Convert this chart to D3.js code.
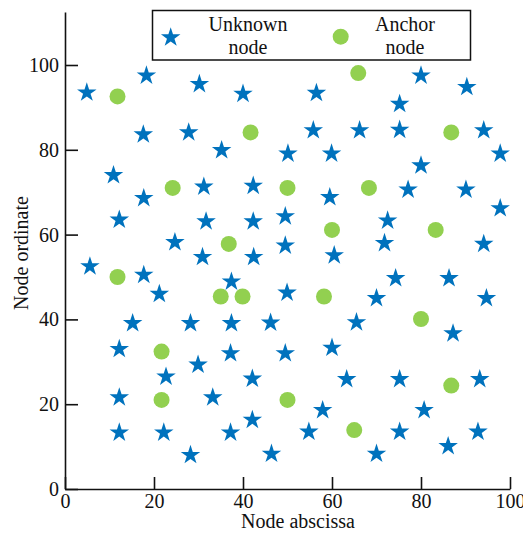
<!DOCTYPE html>
<html>
<head>
<meta charset="utf-8">
<script src="https://cdn.jsdelivr.net/npm/d3@7"></script>
<style>
body { margin: 0; background: #fff; }
svg text { font-family: "Liberation Serif", "Times New Roman", Times, "DejaVu Serif", serif !important; fill: #111; }
</style>
</head>
<body>
<script>
// unknown nodes (stars)
var unknownX = [4.9, 18.3, 30.2, 40.0, 17.6, 27.8, 35.2, 10.9,
  56.5, 80.0, 90.3, 75.2, 55.8, 66.2, 75.2, 94.1, 50.1, 59.9, 97.8, 80.0,
  31.2, 42.3, 17.7, 12.2, 31.7, 42.3, 24.7, 30.9, 42.4, 5.6, 17.7, 37.4, 21.2, 15.2, 28.2, 37.4,
  59.5, 77.1, 90.1, 97.8, 49.5, 72.5, 49.5, 71.8, 94.1, 60.5, 74.3, 86.3, 49.9, 70.0, 94.7, 46.2, 65.5, 87.2, 60.0, 49.5,
  12.2, 29.9, 37.2, 22.7, 42.1, 12.2, 33.2, 12.2, 22.2, 37.2, 42.1, 28.2,
  63.3, 75.2, 93.2, 57.9, 80.7, 54.8, 75.2, 92.8, 86.1, 46.4, 70.0];
var unknownY = [93.5, 97.5, 95.5, 93.2, 83.6, 84.1, 79.9, 74.0,
  93.4, 97.5, 94.8, 90.8, 84.6, 84.6, 84.7, 84.6, 79.1, 79.1, 79.1, 76.3,
  71.3, 71.5, 68.6, 63.5, 63.1, 63.1, 58.2, 54.7, 54.7, 52.5, 50.5, 48.9, 46.0, 39.1, 39.1, 39.1,
  68.8, 70.6, 70.6, 66.2, 64.3, 63.3, 57.4, 58.0, 57.8, 55.1, 49.7, 49.7, 46.3, 45.0, 45.0, 39.2, 39.3, 36.7, 33.3, 32.0,
  33.0, 29.3, 32.0, 26.5, 26.0, 21.6, 21.6, 13.3, 13.3, 13.3, 16.3, 8.0,
  25.9, 25.9, 25.9, 18.6, 18.6, 13.5, 13.5, 13.5, 10.1, 8.3, 8.3];

// anchor nodes (green dots)
var anchorX = [11.8, 65.9, 86.8, 41.7, 24.2, 50.0, 68.3, 60.0, 83.3, 36.8,
  11.8, 35.0, 39.9, 58.2, 80.0, 21.7, 21.7, 50.0, 86.8, 65.0];
var anchorY = [92.6, 98.1, 84.1, 84.1, 71.0, 71.0, 71.0, 61.1, 61.1, 57.8,
  50.0, 45.4, 45.4, 45.4, 40.1, 32.4, 21.0, 21.0, 24.4, 13.9];

var xTicks = [0, 20, 40, 60, 80, 100];
var yTicks = [0, 20, 40, 60, 80, 100];
var legendNames = [["Unknown", "node"], ["Anchor", "node"]];

var width = 523;
var height = 535;
var blue = "#0072BD";
var green = "#92D050";
var serif = "'Liberation Serif', 'Times New Roman', Times, 'DejaVu Serif', serif";

var svg = d3.select("body").append("svg")
  .attr("width", width)
  .attr("height", height)
  .attr("font-family", serif);

var x = d3.scaleLinear().domain([0, 100]).range([65, 510]);
var y = d3.scaleLinear().domain([0, 112.5]).range([489, 12]);

// axes, ticks point inwards
var xAxis = svg.append("g")
  .attr("transform", "translate(0,489)")
  .call(d3.axisBottom(x).tickValues(xTicks).tickSize(-12).tickSizeOuter(0).tickPadding(5));
var yAxis = svg.append("g")
  .attr("transform", "translate(65,0)")
  .call(d3.axisLeft(y).tickValues(yTicks).tickSize(-13).tickSizeOuter(0).tickPadding(6));

[xAxis, yAxis].forEach(function(g){
  g.attr("font-family", serif).attr("font-size", 20);
  g.selectAll("path, line").attr("stroke", "#111").attr("stroke-width", 1.6);
  g.selectAll("text").attr("fill", "#111");
});

svg.append("text")
  .attr("x", 298).attr("y", 528)
  .attr("text-anchor", "middle")
  .attr("font-size", 20)
  .text("Node abscissa");

svg.append("text")
  .attr("transform", "translate(28,253) rotate(-90)")
  .attr("text-anchor", "middle")
  .attr("font-size", 20)
  .text("Node ordinate");

var star = d3.symbol().type(d3.symbolStar).size(118);

svg.append("g").selectAll("path")
  .data(d3.range(unknownX.length))
  .enter()
  .append("path")
  .attr("d", star)
  .attr("transform", function(i){ return "translate(" + x(unknownX[i]) + "," + y(unknownY[i]) + ")"; })
  .attr("fill", blue);

svg.append("g").selectAll("circle")
  .data(d3.range(anchorX.length))
  .enter()
  .append("circle")
  .attr("cx", function(i){ return x(anchorX[i]); })
  .attr("cy", function(i){ return y(anchorY[i]); })
  .attr("r", 8)
  .attr("fill", green);

// legend box at the top
var legend = svg.append("g");
legend.append("rect")
  .attr("x", 152.5).attr("y", 10.5)
  .attr("width", 318).attr("height", 49.5)
  .attr("fill", "#fff")
  .attr("stroke", "#111")
  .attr("stroke-width", 1.5);
legend.append("path")
  .attr("d", star)
  .attr("transform", "translate(170.7,37.5)")
  .attr("fill", blue);
legend.append("circle")
  .attr("cx", 340.7).attr("cy", 36.7)
  .attr("r", 8)
  .attr("fill", green);

var legendX = [248, 405];
legendNames.forEach(function(lines, k){
  lines.forEach(function(t, j){
    legend.append("text")
      .attr("x", legendX[k])
      .attr("y", 31 + j * 23)
      .attr("text-anchor", "middle")
      .attr("font-size", 20)
      .text(t);
  });
});
</script>
</body>
</html>
